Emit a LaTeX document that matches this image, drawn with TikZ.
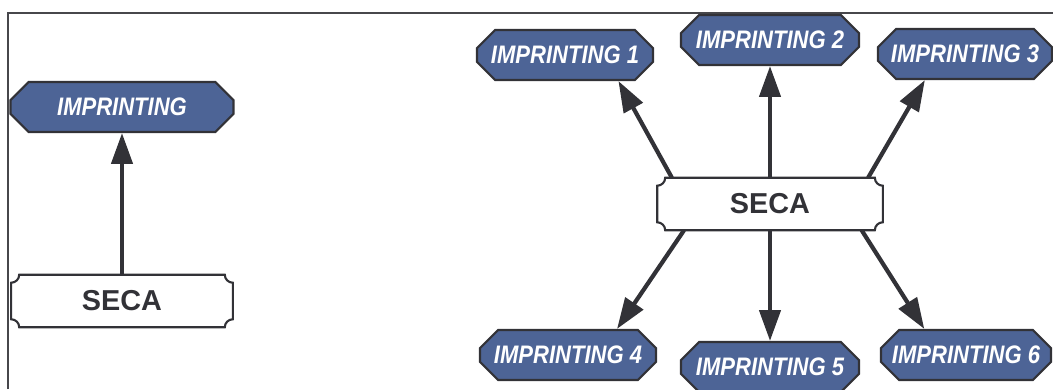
\documentclass[tikz,border=0pt]{standalone}
\usepackage{fontspec}
\setmainfont{Liberation Sans}
\newfontfamily\imprfont[FakeStretch=0.87]{Liberation Sans}
\usetikzlibrary{arrows.meta,positioning,shapes.misc,calc}
\definecolor{imprblue}{RGB}{77,100,150}
\definecolor{boxline}{RGB}{50,50,55}
\tikzset{
	impr/.style={chamfered rectangle,chamfered rectangle xsep=6.5pt,chamfered rectangle ysep=6.5pt,draw=boxline,line width=1.5pt,fill=imprblue,text=white,font=\imprfont\bfseries\itshape\fontsize{18}{20}\selectfont,minimum height=1.25cm,inner sep=0pt},
	seca/.style={minimum height=1.3cm,inner sep=0pt,text=boxline,font=\bfseries\fontsize{20.5}{24}\selectfont},
	conn/.style={line width=3pt,draw=boxline,-{Triangle[length=22pt,width=15pt]}},
	frame/.style={line width=1.1pt,draw=boxline!90}
}
\newcommand\notchbox[1]{\draw[line width=1.5pt,draw=boxline]
	($(#1.north west)+(0.2cm,0)$) -- ($(#1.north east)-(0.2cm,0)$) arc[start angle=180,end angle=270,radius=0.2cm]
	-- ($(#1.south east)+(0,0.2cm)$) arc[start angle=90,end angle=180,radius=0.2cm]
	-- ($(#1.south west)+(0.2cm,0)$) arc[start angle=0,end angle=90,radius=0.2cm]
	-- ($(#1.north west)-(0,0.2cm)$) arc[start angle=270,end angle=360,radius=0.2cm] -- cycle;}

\begin{document}
\begin{tikzpicture}[x=0.025cm,y=0.025cm]
	\useasboundingbox (0,0) rectangle (1053,389);
	\draw[frame] (8,0) -- (8,376) -- (1053,376);

	\node[impr,minimum width=5.575cm] (imp) at (122,282) {IMPRINTING};
	\node[seca,minimum width=5.525cm] (secaL) at (122,88) {SECA};
	\notchbox{secaL}
	\draw[conn] (secaL.north) -- (imp.south);

	\node[seca,minimum width=5.625cm] (secaR) at (770,185) {SECA};
	\notchbox{secaR}
	\node[impr,minimum width=4.4cm] (imp1) at (565,334) {IMPRINTING 1};
	\node[impr,minimum width=4.45cm] (imp2) at (770,349) {IMPRINTING 2};
	\node[impr,minimum width=4.35cm] (imp3) at (965,335) {IMPRINTING 3};
	\node[impr,minimum width=4.4cm] (imp4) at (568,34) {IMPRINTING 4};
	\node[impr,minimum width=4.45cm] (imp5) at (770,22) {IMPRINTING 5};
	\node[impr,minimum width=4.25cm] (imp6) at (966,34) {IMPRINTING 6};

	\draw[conn] (secaR.165) -- (imp1.-26);
	\draw[conn] (secaR.north) -- (imp2.south);
	\draw[conn] (secaR.15) -- (imp3.213);
	\draw[conn] (secaR.197) -- (imp4.28);
	\draw[conn] (secaR.south) -- (imp5.north);
	\draw[conn] (secaR.-16) -- (imp6.148);
\end{tikzpicture}
\end{document}
